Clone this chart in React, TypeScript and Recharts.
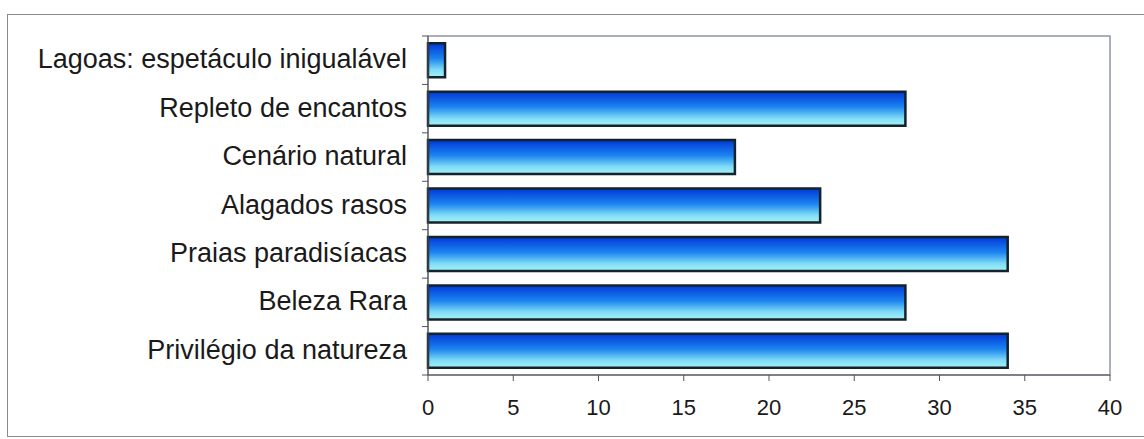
import { BarChart, Bar, XAxis, YAxis, ReferenceArea } from "recharts";

const categories = [
  "Lagoas: espetáculo inigualável",
  "Repleto de encantos",
  "Cenário natural",
  "Alagados rasos",
  "Praias paradisíacas",
  "Beleza Rara",
  "Privilégio da natureza",
];
const counts = [1, 28, 18, 23, 34, 28, 34];
const xTicks = [0, 5, 10, 15, 20, 25, 30, 35, 40];

const data = categories.map((name, i) => ({ name, value: counts[i] }));

const W = 1144;
const H = 439;
const AXIS_X = 428;
const X_AXIS_H = 64;
const M = { top: 36, right: 34, bottom: 0, left: 0 };
const band = (H - M.top - X_AXIS_H) / categories.length;
const FONT = "'Liberation Sans', Arial, sans-serif";

// category label at the band centre, tick mark on the band edges (Excel style)
function CatTick({ y, payload, index }: any) {
  return (
    <g>
      <line x1={AXIS_X} x2={AXIS_X - 6} y1={y - band / 2} y2={y - band / 2} stroke="#555" />
      {index === categories.length - 1 && (
        <line x1={AXIS_X} x2={AXIS_X - 6} y1={y + band / 2} y2={y + band / 2} stroke="#555" />
      )}
      <text x={AXIS_X - 21} y={y} dy={8} textAnchor="end" fontSize={27} fill="#1a1a1a" fontFamily={FONT}>
        {payload.value}
      </text>
    </g>
  );
}

export default function App() {
  return (
    <div style={{ position: "absolute", left: 0, top: 0, width: W, height: H, background: "#fff" }}>
      <div
        style={{
          position: "absolute",
          left: 7,
          top: 14,
          width: W,
          height: 421,
          borderLeft: "1.5px solid #8a8a8a",
          borderTop: "1.5px solid #8a8a8a",
          borderBottom: "1.5px solid #8a8a8a",
        }}
      />
      <BarChart
        width={W}
        height={H}
        data={data}
        layout="vertical"
        margin={M}
        barCategoryGap="15%"
        style={{ position: "absolute", left: 0, top: 0 }}
      >
        <defs>
          <linearGradient id="barFill" x1="0" y1="0" x2="0" y2="1">
            <stop offset="0%" stopColor="#0038d8" />
            <stop offset="45%" stopColor="#1c84f0" />
            <stop offset="78%" stopColor="#7fdcf6" />
            <stop offset="100%" stopColor="#a6f2f8" />
          </linearGradient>
        </defs>
        <XAxis
          type="number"
          domain={[0, 40]}
          ticks={xTicks}
          interval={0}
          tickSize={6}
          tickMargin={18}
          axisLine={{ stroke: "#555" }}
          tickLine={{ stroke: "#555" }}
          tick={{ fontSize: 22, fill: "#1a1a1a", fontFamily: FONT }}
          height={X_AXIS_H}
        />
        <YAxis
          type="category"
          dataKey="name"
          width={AXIS_X}
          tick={<CatTick />}
          tickLine={false}
          axisLine={{ stroke: "#555" }}
          interval={0}
        />
        {/* plot-area frame: grey top and right edges */}
        <ReferenceArea x1={0} x2={40} fill="none" stroke="#8e94a8" strokeWidth={1.5} ifOverflow="visible" />
        <Bar
          dataKey="value"
          fill="url(#barFill)"
          stroke="#14222a"
          strokeWidth={2.5}
          isAnimationActive={false}
        />
      </BarChart>
    </div>
  );
}
